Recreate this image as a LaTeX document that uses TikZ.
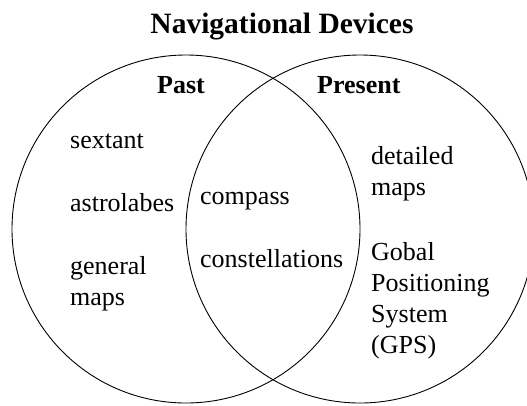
\documentclass[tikz,border=0pt]{standalone}
\usepackage{fontspec}
\setmainfont{Liberation Serif}
\begin{document}
\begin{tikzpicture}[x=1pt,y=-1pt,
  ring/.style={draw=black,line width=0.9pt},
  lbl/.style={anchor=base west,inner sep=0pt,align=left,font=\fontsize{26}{31}\selectfont},
  head/.style={anchor=base west,inner sep=0pt,font=\fontsize{26}{31}\selectfont\bfseries},
  ttl/.style={anchor=base,inner sep=0pt,font=\fontsize{29.5}{34}\selectfont\bfseries}]
\useasboundingbox (0,0) rectangle (527,405);
\clip (0,0) rectangle (527,405);
\node[ring,circle,minimum size=348pt,inner sep=0pt] (past) at (186,229) {};
\node[ring,circle,minimum size=348pt,inner sep=0pt] (present) at (360,229) {};
\node[ttl] (title) at (282,33) {Navigational Devices};
\node[head] (pasthead) at (157,93) {Past};
\node[head] (presenthead) at (317,93) {Present};
\node[lbl] (sextant) at (70,148) {sextant};
\node[lbl] (astro) at (70,211) {astrolabes};
\node[lbl] (general) at (70,305) {general\\maps};
\node[lbl] (compass) at (200,204) {compass};
\node[lbl] (const) at (200,267) {constellations};
\node[lbl] (detailed) at (371,195) {detailed\\maps};
\node[lbl] (gps) at (371,353) {Gobal\\Positioning\\System\\(GPS)};
\end{tikzpicture}
\end{document}
